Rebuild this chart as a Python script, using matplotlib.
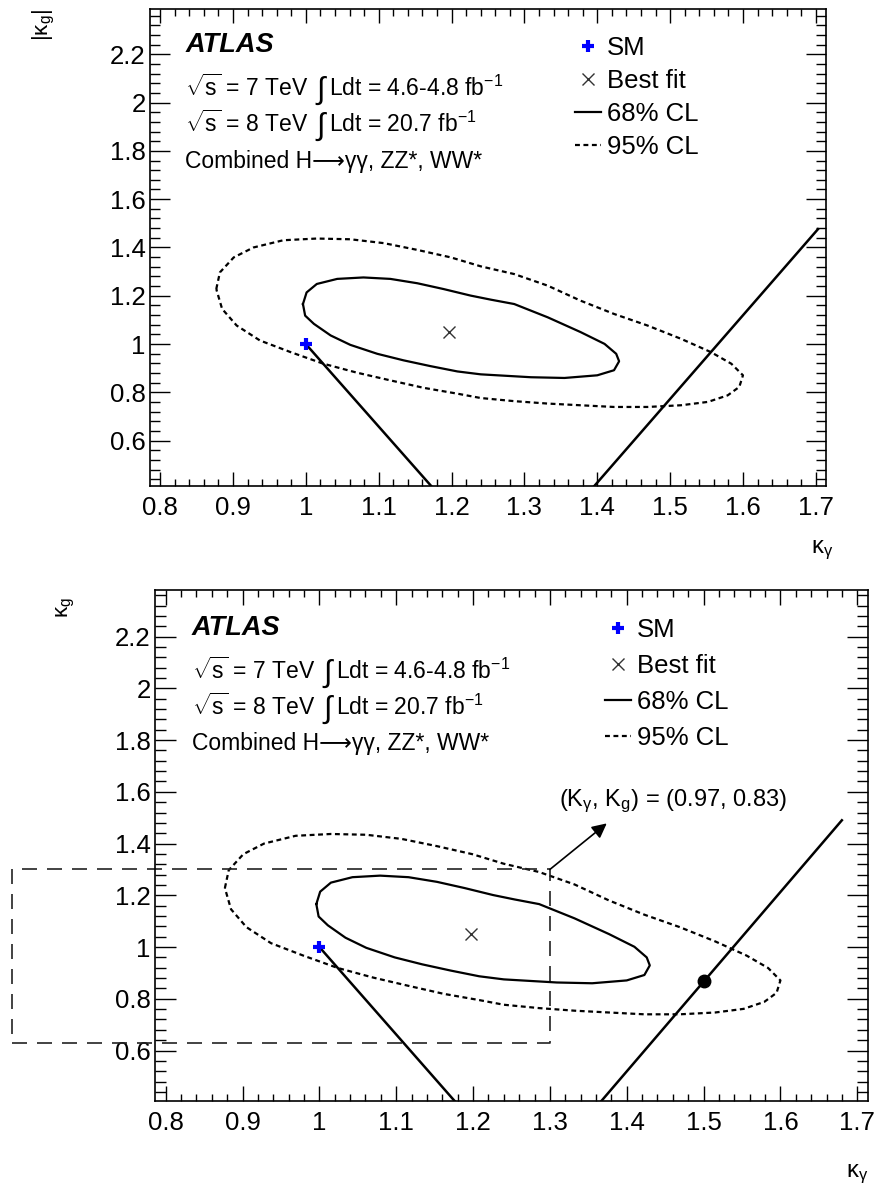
import matplotlib
matplotlib.use("Agg")
import matplotlib.pyplot as plt
from matplotlib.ticker import MultipleLocator, FuncFormatter
from matplotlib.lines import Line2D

plt.rcParams['font.family'] = ['Liberation Sans', 'DejaVu Sans']
plt.rcParams['mathtext.fontset'] = 'custom'
plt.rcParams['mathtext.rm'] = 'Liberation Sans'
plt.rcParams['mathtext.it'] = 'Liberation Sans:italic'
plt.rcParams['mathtext.bf'] = 'Liberation Sans:bold'
plt.rcParams['mathtext.default'] = 'regular'

# ------------------------------------------------------------
# dados
# ------------------------------------------------------------
sm_x, sm_y = 1.0, 1.0
bf_x, bf_y = 1.197, 1.05

# contorno 68% CL
cl68_x = [0.996, 1.001, 1.015, 1.043, 1.079, 1.116, 1.153, 1.189, 1.226, 1.254,
          1.286, 1.332, 1.377, 1.410, 1.426, 1.430, 1.423, 1.400, 1.355, 1.309,
          1.263, 1.240, 1.208, 1.171, 1.134, 1.098, 1.061, 1.034, 1.011, 0.999, 0.996]
cl68_y = [1.166, 1.214, 1.249, 1.270, 1.276, 1.270, 1.252, 1.228, 1.201, 1.184,
          1.166, 1.111, 1.050, 1.001, 0.960, 0.929, 0.892, 0.871, 0.860, 0.863,
          0.871, 0.875, 0.887, 0.909, 0.933, 0.960, 0.997, 1.036, 1.084, 1.118, 1.166]

# contorno 95% CL
cl95_x = [0.877, 0.882, 0.901, 0.928, 0.969, 1.015, 1.061, 1.107, 1.153, 1.199,
          1.240, 1.286, 1.332, 1.377, 1.423, 1.469, 1.515, 1.556, 1.584, 1.600,
          1.595, 1.579, 1.552, 1.515, 1.469, 1.423, 1.377, 1.332, 1.286, 1.240,
          1.208, 1.162, 1.116, 1.070, 1.024, 0.979, 0.937, 0.905, 0.885, 0.877]
cl95_y = [1.228, 1.297, 1.359, 1.400, 1.430, 1.437, 1.434, 1.418, 1.390, 1.359,
          1.322, 1.290, 1.242, 1.180, 1.125, 1.077, 1.022, 0.967, 0.919, 0.871,
          0.823, 0.788, 0.761, 0.747, 0.740, 0.740, 0.747, 0.754, 0.764, 0.777,
          0.795, 0.819, 0.850, 0.882, 0.919, 0.967, 1.015, 1.077, 1.146, 1.228]

# retas (painel superior)
top_left_x, top_left_y = [1.0, 1.172], [1.0, 0.413]
top_right_x, top_right_y = [1.396, 1.703], [0.413, 1.476]

# retas (painel inferior)
bot_left_x, bot_left_y = [1.0, 1.176], [1.0, 0.405]
bot_right_x, bot_right_y = [1.367, 1.68], [0.405, 1.49]
dot_x, dot_y = 1.5, 0.867

# retangulo tracejado e seta
box_x = [0.6, 1.3, 1.3, 0.6, 0.6]
box_y = [0.63, 0.63, 1.3, 1.3, 0.63]
arrow_from = (1.3, 1.3)
arrow_to = (1.374, 1.478)
note_pos = (1.312, 1.563)
note_text = r"(K$_{\gamma}$, K$_{g}$) = (0.97, 0.83)"

xlim = (0.786, 1.714)
ylim_top = (0.413, 2.387)
ylim_bot = (0.405, 2.38)

lumi_lines = [
    (r"$\sqrt{s}$ = 7 TeV", r"Ldt = 4.6-4.8 fb$^{-1}$"),
    (r"$\sqrt{s}$ = 8 TeV", r"Ldt = 20.7 fb$^{-1}$"),
]
channel_line = "Combined H\u27f6\u03b3\u03b3, ZZ*, WW*"

dash95 = (0, (2.2, 1.6))
TICK_FS = 18.5
TXT_FS = 16.5


def fmt(v, pos):
    return "%g" % round(v, 3)


def style_axes(ax, ylim, sc):
    ax.set_xlim(*xlim)
    ax.set_ylim(*ylim)
    ax.xaxis.set_major_locator(MultipleLocator(0.1))
    ax.xaxis.set_minor_locator(MultipleLocator(0.02))
    ax.yaxis.set_major_locator(MultipleLocator(0.2))
    ax.yaxis.set_minor_locator(MultipleLocator(0.04))
    ax.xaxis.set_major_formatter(FuncFormatter(fmt))
    ax.yaxis.set_major_formatter(FuncFormatter(fmt))
    ax.tick_params(axis='both', which='both', direction='in', top=True, right=True,
                   labelsize=TICK_FS, width=1.0)
    ax.tick_params(axis='x', which='major', length=10 * sc, pad=7)
    ax.tick_params(axis='x', which='minor', length=5 * sc)
    ax.tick_params(axis='y', which='major', length=14.4 * sc, pad=3)
    ax.tick_params(axis='y', which='minor', length=7.2 * sc)
    for s in ax.spines.values():
        s.set_linewidth(1.2)


def lumi_text(ax, x, y, pre, post):
    # texto em tres pedacos para ter um sinal de integral maior
    t1 = ax.text(x, y, pre, transform=ax.transAxes, fontsize=TXT_FS)
    t2 = ax.annotate(r"$\int$", xy=(1, y), xycoords=(t1, ax.transAxes),
                     xytext=(5, -2), textcoords='offset points',
                     fontsize=22, va='baseline', math_fontfamily='stixsans')
    ax.annotate(post, xy=(1, y), xycoords=(t2, ax.transAxes),
                xytext=(0.5, 0), textcoords='offset points',
                fontsize=TXT_FS, va='baseline')


def draw_common(ax, tx, ty):
    ax.plot(cl95_x, cl95_y, color='black', lw=1.6, ls=dash95)
    ax.plot(cl68_x, cl68_y, color='black', lw=1.6)
    ax.plot([bf_x], [bf_y], marker='x', color='#333333', ms=9, mew=1.0, ls='None')

    ax.text(tx, ty[0], "ATLAS", transform=ax.transAxes, fontsize=19.5,
            fontweight='bold', fontstyle='italic')
    for (pre, post), yy in zip(lumi_lines, ty[1:3]):
        lumi_text(ax, tx, yy, pre, post)
    ax.text(tx, ty[3], channel_line, transform=ax.transAxes, fontsize=TXT_FS)


def add_legend(ax, anchor, spacing):
    handles = [
        Line2D([], [], marker='+', color='blue', ms=8, mew=3.0, ls='None'),
        Line2D([], [], marker='x', color='#333333', ms=9, mew=1.0, ls='None'),
        Line2D([], [], color='black', lw=1.6),
        Line2D([], [], color='black', lw=1.6, ls=dash95),
    ]
    labels = ["SM", "Best fit", "68% CL", "95% CL"]
    ax.legend(handles, labels, loc='upper left', bbox_to_anchor=anchor,
              frameon=False, fontsize=18.5, handlelength=1.0, handletextpad=0.25,
              labelspacing=spacing, borderaxespad=0, borderpad=0)


fig = plt.figure(figsize=(8.75, 11.85), dpi=100)

# ------------------------------------------------------------
# painel superior
# ------------------------------------------------------------
ax1 = fig.add_axes([0.1714, 0.5899, 0.7726, 0.4025])
style_axes(ax1, ylim_top, 1.0)
draw_common(ax1, 0.052, [0.910, 0.818, 0.742, 0.667])
ax1.plot(top_left_x, top_left_y, color='black', lw=1.8)
ax1.plot(top_right_x, top_right_y, color='black', lw=1.8)
ax1.plot([sm_x], [sm_y], marker='+', color='blue', ms=8, mew=3.0, ls='None', zorder=5)
add_legend(ax1, (0.629, 0.944), 0.36)
ax1.set_xlabel(r"$\kappa_{\gamma}$", fontsize=17, loc='right')
ax1.xaxis.set_label_coords(1.01, -0.11)
ax1.set_ylabel(r"$|\kappa_{g}|$", fontsize=16, loc='top')
ax1.yaxis.set_label_coords(-0.138, 1.0)

# ------------------------------------------------------------
# painel inferior
# ------------------------------------------------------------
ax2 = fig.add_axes([0.1771, 0.0709, 0.8149, 0.4312])
style_axes(ax2, ylim_bot, 1.07)
draw_common(ax2, 0.052, [0.912, 0.826, 0.755, 0.687])
ax2.plot(bot_left_x, bot_left_y, color='black', lw=1.8)
ax2.plot(bot_right_x, bot_right_y, color='black', lw=1.8)
ax2.plot([sm_x], [sm_y], marker='+', color='blue', ms=8, mew=3.0, ls='None', zorder=5)
ax2.plot([dot_x], [dot_y], marker='o', color='black', ms=9, ls='None', zorder=5)
ax2.plot(box_x, box_y, color='#222222', lw=1.2, ls=(0, (9, 6)), clip_on=False)
ax2.annotate("", xy=arrow_to, xytext=arrow_from,
             arrowprops=dict(arrowstyle='-|>', color='black', lw=1.2,
                             mutation_scale=22, shrinkA=0, shrinkB=0))
ax2.text(note_pos[0], note_pos[1], note_text, fontsize=17, va='center')
add_legend(ax2, (0.631, 0.945), 0.47)
ax2.set_xlabel(r"$\kappa_{\gamma}$", fontsize=17, loc='right')
ax2.xaxis.set_label_coords(1.0, -0.12)
ax2.set_ylabel(r"$\kappa_{g}$", fontsize=16, loc='top')
ax2.yaxis.set_label_coords(-0.109, 0.986)

fig.savefig("out.png", dpi=100)
